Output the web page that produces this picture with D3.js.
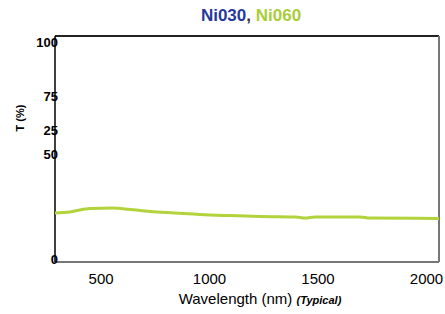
<!DOCTYPE html>
<html>
<head>
<meta charset="utf-8">
<script src="https://cdn.jsdelivr.net/npm/d3@7"></script>
<style>
body { margin: 0; background: #fff; }
svg { font-family: "Liberation Sans", Arial, sans-serif; }
</style>
</head>
<body>
<svg id="chart" width="445" height="314"></svg>
<script>
// values
var wavelengths = [290, 359, 451, 557, 636, 728, 843, 958, 1097, 1235, 1400, 1442, 1488, 1696, 1742, 2060]
var ni060 = [21.2, 21.7, 23.3, 23.5, 22.8, 21.9, 21.2, 20.5, 20.0, 19.6, 19.4, 18.9, 19.4, 19.4, 18.9, 18.7]

var xTicks = [500, 1000, 1500, 2000]
// the y labels in the original are out of order, keep them where they sit
var yTickVals = [100, 75, 59.5, 48.3, 0]
var yTickText = ['100', '75', '25', '50', '0']

var mLeft = 55, mRight = 439, mTop = 36, mBottom = 262

var svg = d3.select('#chart')

var x = d3.scaleLinear().domain([290, 2060]).range([mLeft, mRight])
var y = d3.scaleLinear().domain([0, 100]).range([259, 42])

// title
var title = svg.append('text')
    .attr('x', 251).attr('y', 21)
    .attr('text-anchor', 'middle')
    .attr('font-size', 17).attr('font-weight', 'bold')
title.append('tspan').attr('fill', '#26399a').text('Ni030')
title.append('tspan').attr('fill', '#333').text(', ')
title.append('tspan').attr('fill', '#a9cd39').text('Ni060')

// frame
svg.append('line').attr('x1', mLeft).attr('x2', mRight).attr('y1', mTop).attr('y2', mTop)
    .attr('stroke', '#222').attr('stroke-width', 2)
svg.append('line').attr('x1', mRight).attr('x2', mRight).attr('y1', mTop).attr('y2', mBottom)
    .attr('stroke', '#777').attr('stroke-width', 2)
svg.append('line').attr('x1', mLeft).attr('x2', mRight).attr('y1', mBottom).attr('y2', mBottom)
    .attr('stroke', '#777').attr('stroke-width', 2)

// y axis
var yAxis = svg.append('g')
    .attr('transform', 'translate(' + mLeft + ',0)')
    .call(d3.axisLeft(y).tickValues(yTickVals).tickSize(0)
        .tickFormat((d, i) => yTickText[i]))
yAxis.select('.domain').remove()
yAxis.selectAll('text')
    .attr('x', 3).attr('font-size', 13).attr('font-weight', 'bold')
    .attr('fill', '#000').attr('font-family', '"Liberation Sans", Arial, sans-serif')
svg.append('line').attr('x1', mLeft).attr('x2', mLeft).attr('y1', mTop).attr('y2', mBottom)
    .attr('stroke', '#000').attr('stroke-width', 1.5)

// x axis
var xAxis = svg.append('g')
    .attr('transform', 'translate(0,' + mBottom + ')')
    .call(d3.axisBottom(x).tickValues(xTicks).tickSize(0).tickFormat(d3.format('d')))
xAxis.select('.domain').remove()
xAxis.selectAll('text')
    .attr('dy', 19).attr('font-size', 15)
    .attr('fill', '#000').attr('font-family', '"Liberation Sans", Arial, sans-serif')

// axis titles
var xl = svg.append('text')
    .attr('x', 260).attr('y', 304)
    .attr('text-anchor', 'middle')
    .attr('font-size', 15)
xl.append('tspan').text('Wavelength (nm) ')
xl.append('tspan').attr('font-size', 11).attr('font-style', 'italic').attr('font-weight', 'bold').text('(Typical)')

svg.append('text')
    .attr('transform', 'translate(24,118) rotate(-90)')
    .attr('text-anchor', 'middle')
    .attr('font-size', 11).attr('font-weight', 'bold')
    .text('T (%)')

// curve
var line = d3.line()
    .x((d, i) => x(wavelengths[i]))
    .y(d => y(d))
    .curve(d3.curveMonotoneX)

svg.append('path')
    .datum(ni060)
    .attr('d', line)
    .attr('fill', 'none')
    .attr('stroke', '#b2d33b')
    .attr('stroke-width', 3)
</script>
</body>
</html>
